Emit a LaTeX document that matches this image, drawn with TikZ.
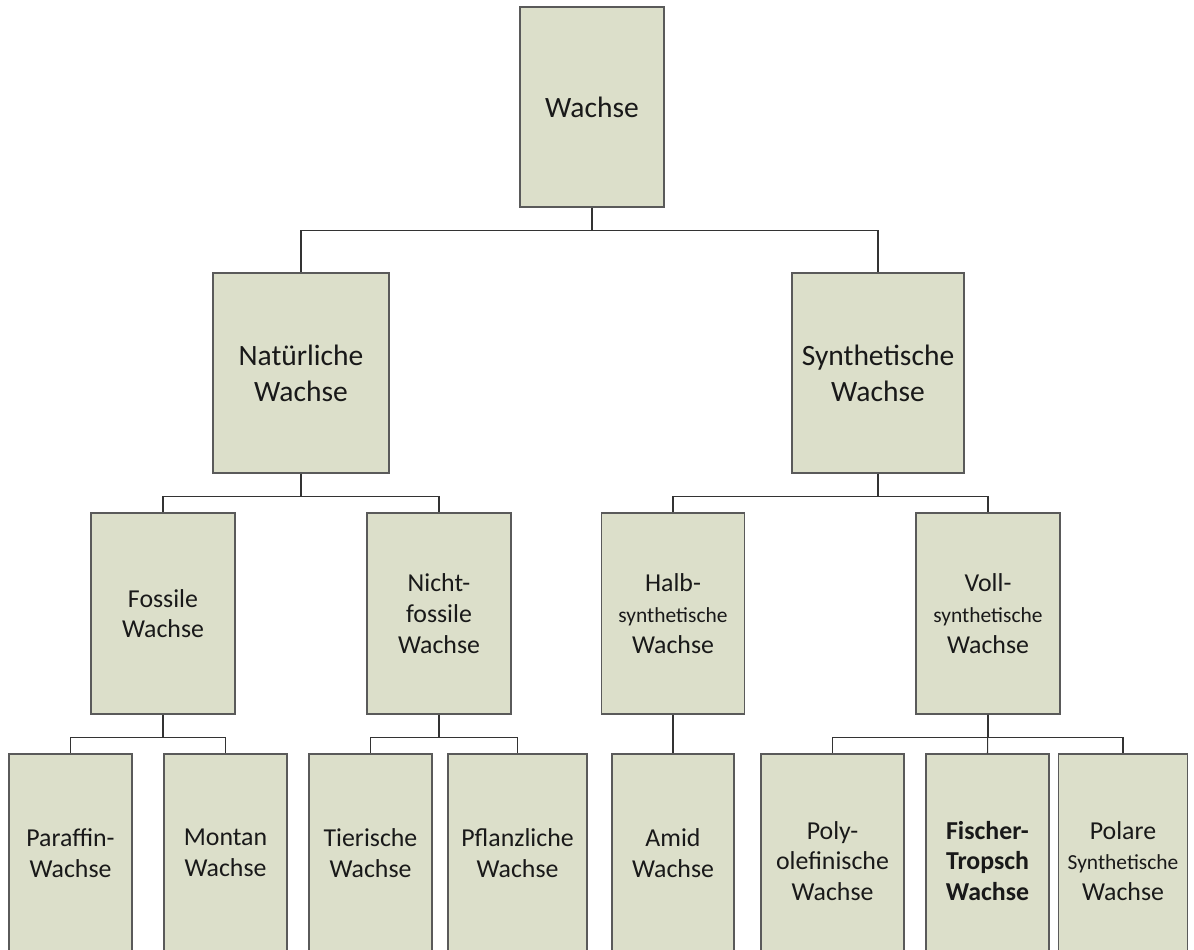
\documentclass[tikz,border=0pt]{standalone}
\usepackage{fontspec}
\setmainfont{Carlito}
\usepackage{xcolor}
\usepackage{tikz}
\usetikzlibrary{positioning,calc}
\definecolor{boxfill}{HTML}{DCDFCA}
\definecolor{boxline}{HTML}{5A5A5A}
\definecolor{connline}{HTML}{333333}
\newcommand{\smalltxt}[1]{{\fontsize{12.2}{14}\selectfont #1}}

\begin{document}
\begin{tikzpicture}[x=0.02cm,y=-0.02cm,
box/.style={draw=boxline,fill=boxfill,line width=0.85pt,align=center,inner sep=0pt,text=black!90},
big/.style={box,font=\fontsize{16.8}{20.5}\selectfont},
mid/.style={box,font=\fontsize{14.7}{17.5}\selectfont},
conn/.style={draw=connline,line width=0.6pt}
]
\useasboundingbox (0,0) rectangle (1194,950);
\clip (0,0) rectangle (1194,950);
\node[big, minimum width=2.88cm, minimum height=4.0cm] (wachse) at (592,107) {Wachse};
\node[big, minimum width=3.53cm, minimum height=4.0cm] (nat) at (301,373) {Natürliche\\Wachse};
\node[big, minimum width=3.44cm, minimum height=4.0cm] (syn) at (878,373) {Synthetische\\Wachse};
\node[mid, minimum width=2.88cm, minimum height=4.02cm] (foss) at (163,613.5) {Fossile\\Wachse};
\node[mid, minimum width=2.88cm, minimum height=4.02cm] (nfoss) at (439,613.5) {Nicht-\\fossile\\Wachse};
\node[mid, minimum width=2.86cm, minimum height=4.02cm] (halb) at (673,613.5) {Halb-\\\smalltxt{synthetische}\\Wachse};
\node[mid, minimum width=2.88cm, minimum height=4.02cm] (voll) at (988,613.5) {Voll-\\\smalltxt{synthetische}\\Wachse};
\node[mid, minimum width=2.46cm, minimum height=3.96cm] (paraf) at (70.5,853) {Paraffin-\\Wachse};
\node[mid, minimum width=2.46cm, minimum height=3.96cm] (montan) at (225.5,853) {Montan\\Wachse};
\node[mid, minimum width=2.46cm, minimum height=3.96cm] (tier) at (370.5,853) {Tierische\\Wachse};
\node[mid, minimum width=2.78cm, minimum height=3.96cm] (pflanz) at (517.5,853) {Pflanzliche\\Wachse};
\node[mid, minimum width=2.44cm, minimum height=3.96cm] (amid) at (673,853) {Amid\\Wachse};
\node[mid, minimum width=2.86cm, minimum height=4.28cm] (poly) at (832.5,861) {Poly-\\olefinische\\Wachse};
\node[mid, minimum width=2.46cm, minimum height=4.28cm, font=\fontsize{14.7}{17.5}\selectfont\bfseries] (ft) at (987.5,861) {Fischer-\\Tropsch\\Wachse};
\node[mid, minimum width=2.58cm, minimum height=4.28cm] (polar) at (1123,861) {Polare\\\smalltxt{Synthetische}\\Wachse};
\draw[conn] (wachse.south) -- ++(0,23) -| (nat.north);
\draw[conn] (wachse.south) -- ++(0,23) -| (syn.north);
\draw[conn] (nat.south) -- ++(0,23) -| (foss.north);
\draw[conn] (nat.south) -- ++(0,23) -| (nfoss.north);
\draw[conn] (syn.south) -- ++(0,23) -| (halb.north);
\draw[conn] (syn.south) -- ++(0,23) -| (voll.north);
\draw[conn] (foss.south) -- ++(0,23) -| (paraf.north);
\draw[conn] (foss.south) -- ++(0,23) -| (montan.north);
\draw[conn] (nfoss.south) -- ++(0,23) -| (tier.north);
\draw[conn] (nfoss.south) -- ++(0,23) -| (pflanz.north);
\draw[conn] (halb.south) -- (amid.north);
\draw[conn] (voll.south) -- ++(0,23) -| (poly.north);
\draw[conn] (voll.south) -- (ft.north);
\draw[conn] (voll.south) -- ++(0,23) -| (polar.north);
\end{tikzpicture}
\end{document}
